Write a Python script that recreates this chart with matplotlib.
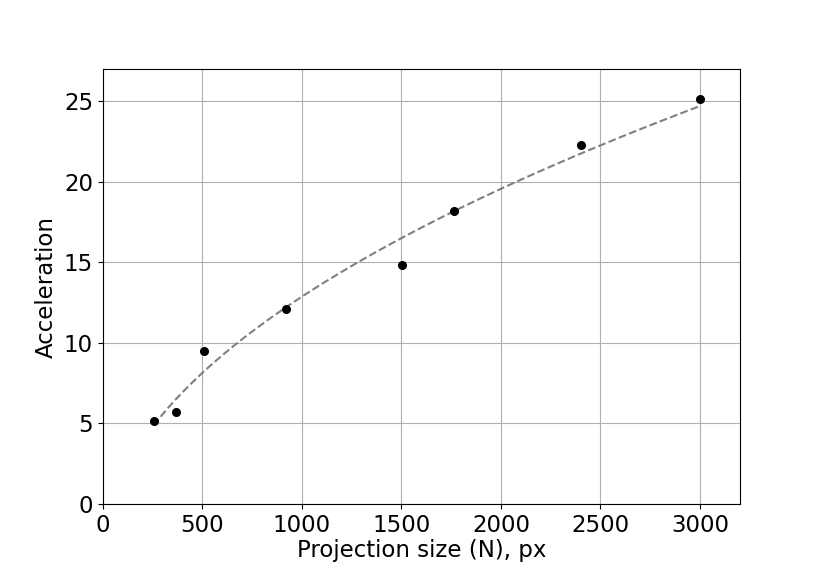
import numpy as np
import matplotlib
matplotlib.use('Agg')
import matplotlib.pyplot as plt

# measured points
sizes = [256, 366, 507, 918, 1505, 1766, 2403, 3000]
accel = [5.16, 5.72, 9.51, 12.13, 14.86, 18.22, 22.26, 25.12]

plt.rcParams['font.family'] = 'DejaVu Sans'

x = np.array(sizes, dtype=float)
y = np.array(accel)

# fit y = a*sqrt(x) + c
a, c = np.polyfit(np.sqrt(x), y, 1)
xf = np.linspace(x.min(), x.max(), 200)
yf = a * np.sqrt(xf) + c

fig = plt.figure(figsize=(8.22, 5.76), dpi=100)
fig.subplots_adjust(left=0.125, right=0.9, bottom=0.125, top=0.88)
ax = fig.add_subplot(111)
ax.plot(xf, yf, '--', color='gray', linewidth=1.5)
ax.plot(x, y, 'o', color='black', markersize=5.5)
ax.set_xlim(0, 3200)
ax.set_ylim(0, 27)
ax.set_xticks([0, 500, 1000, 1500, 2000, 2500, 3000])
ax.set_yticks([0, 5, 10, 15, 20, 25])
ax.tick_params(labelsize=16.5)
ax.grid(True, color='#b0b0b0')
ax.set_xlabel('Projection size (N), px', fontsize=16.5, labelpad=2)
ax.set_ylabel('Acceleration', fontsize=16.5)
fig.savefig('out.png', dpi=100)
